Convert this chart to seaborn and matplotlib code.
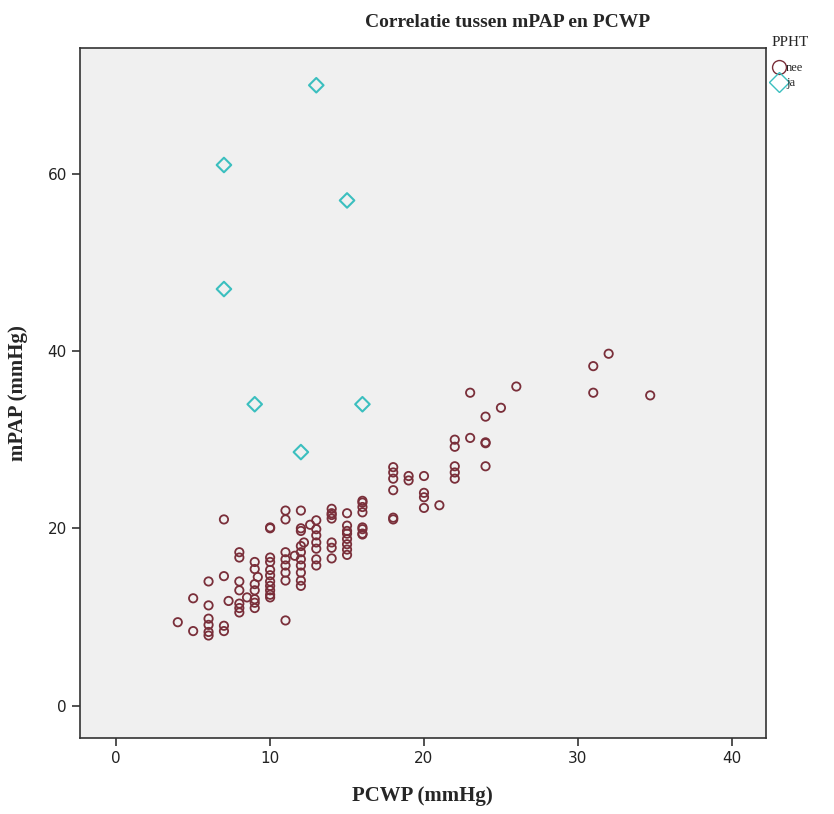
import numpy as np
import pandas as pd
import matplotlib
matplotlib.use("Agg")
import matplotlib.pyplot as plt
import seaborn as sns

# PPHT = nee (PCWP, mPAP)
pcwp_nee = [4, 5, 5,
            6, 6, 6, 6, 6, 6,
            7, 7, 7, 7, 7.3,
            8, 8, 8, 8, 8, 8, 8, 8.5,
            9, 9, 9, 9, 9, 9, 9.2, 9,
            10, 10, 10, 10, 10, 10, 10, 10, 10, 10, 10,
            11, 11, 11, 11, 11, 11, 11, 11, 11.6,
            12, 12, 12, 12, 12.2, 12, 12, 12, 12, 12, 12,
            13, 12.6, 13, 13, 13, 13, 13, 13,
            14, 14, 14, 14, 14, 14, 14,
            15, 15, 15, 15, 15, 15, 15, 15,
            16, 16, 16, 16, 16, 16, 16, 16,
            18, 18, 18, 18, 18, 18,
            19, 19,
            20, 20, 20, 20,
            21,
            22, 22, 22, 22, 22,
            23, 23,
            24, 24, 24, 24,
            25, 26, 31, 31, 32, 34.7]
mpap_nee = [9.4, 12.1, 8.4,
            14.0, 11.3, 9.8, 9.1, 8.3, 7.9,
            21.0, 14.6, 9.0, 8.4, 11.8,
            17.3, 16.7, 14.0, 13.0, 11.5, 11.0, 10.5, 12.2,
            16.2, 15.4, 13.7, 13.0, 11.6, 11.0, 14.5, 12.0,
            20.1, 20.0, 16.7, 16.2, 15.3, 14.7, 14.0, 13.5, 13.0, 12.5, 12.2,
            22.0, 21.0, 17.3, 16.5, 15.8, 15.0, 14.1, 9.6, 16.9,
            22.0, 20.0, 19.7, 18.0, 18.4, 17.3, 16.5, 15.8, 15.0, 14.1, 13.5,
            20.9, 20.4, 19.9, 19.2, 18.4, 17.7, 16.5, 15.8,
            22.2, 21.7, 21.5, 21.1, 18.4, 17.8, 16.6,
            21.7, 20.3, 19.7, 19.4, 18.8, 18.2, 17.6, 17.0,
            23.1, 22.9, 22.4, 21.8, 20.1, 19.4, 19.9, 19.3,
            26.9, 26.3, 25.6, 24.3, 21.2, 21.0,
            25.9, 25.4,
            25.9, 24.0, 23.5, 22.3,
            22.6,
            30.0, 29.2, 27.0, 26.3, 25.6,
            35.3, 30.2,
            32.6, 29.7, 29.6, 27.0,
            33.6, 36.0, 38.3, 35.3, 39.7, 35.0]

# PPHT = ja
pcwp_ja = [13, 7, 15, 7, 9, 16, 12]
mpap_ja = [70.0, 61.0, 57.0, 47.0, 34.0, 34.0, 28.6]

df = pd.DataFrame({
    'PCWP': pcwp_nee + pcwp_ja,
    'mPAP': mpap_nee + mpap_ja,
    'PPHT': ['nee'] * len(pcwp_nee) + ['ja'] * len(pcwp_ja),
})

sns.set_style('ticks')
plt.rcParams['font.family'] = ['Liberation Serif', 'DejaVu Serif']

fig = plt.figure(figsize=(8.34, 8.14), dpi=100)
ax = fig.add_axes([0.096, 0.093, 0.822, 0.848])
ax.set_facecolor('#F0F0F0')

brown = '#7A2F3A'
cyan = '#3BBFBF'
nee = df[df['PPHT'] == 'nee']
ja = df[df['PPHT'] == 'ja']
sns.scatterplot(data=nee, x='PCWP', y='mPAP', ax=ax, marker='o', s=36,
                facecolors='none', edgecolor=brown, linewidth=1.3, legend=False)
sns.scatterplot(data=ja, x='PCWP', y='mPAP', ax=ax, marker='D', s=55,
                facecolors='none', edgecolor=cyan, linewidth=1.5, legend=False)

ax.set_xlim(-2.35, 42.2)
ax.set_ylim(-3.7, 74.2)
ax.set_xticks([0, 10, 20, 30, 40])
ax.set_yticks([0, 20, 40, 60])
for s in ax.spines.values():
    s.set_visible(True)
    s.set_color('#333333')
    s.set_linewidth(1.2)
ax.tick_params(axis='both', direction='out', length=6, width=1.2, color='#333333',
               bottom=True, left=True, labelsize=11, labelcolor='#222222')
for lab in ax.get_xticklabels() + ax.get_yticklabels():
    lab.set_family(['Liberation Sans Narrow', 'DejaVu Sans'])

ax.set_xlabel('PCWP (mmHg)', fontsize=15, fontweight='bold', labelpad=14)
ax.set_ylabel('mPAP (mmHg)', fontsize=15, fontweight='bold', labelpad=14)
fig.text(0.609, 0.972, 'Correlatie tussen mPAP en PCWP', ha='center', va='center',
         fontsize=14, fontweight='bold')

# legend to the right, SPSS style
fig.text(0.925, 0.948, 'PPHT', ha='left', va='center', fontsize=11)
handles = [
    plt.Line2D([], [], marker='o', linestyle='none', markersize=10,
               markerfacecolor='none', markeredgecolor=brown, markeredgewidth=1),
    plt.Line2D([], [], marker='D', linestyle='none', markersize=10,
               markerfacecolor='none', markeredgecolor=cyan, markeredgewidth=1),
]
fig.legend(handles, ['nee', 'ja'], loc='upper left', bbox_to_anchor=(0.917, 0.934),
           frameon=False, fontsize=9, handlelength=0.8, handletextpad=0.2,
           labelspacing=0.2, borderpad=0.2)

fig.savefig('out.png', dpi=100)
